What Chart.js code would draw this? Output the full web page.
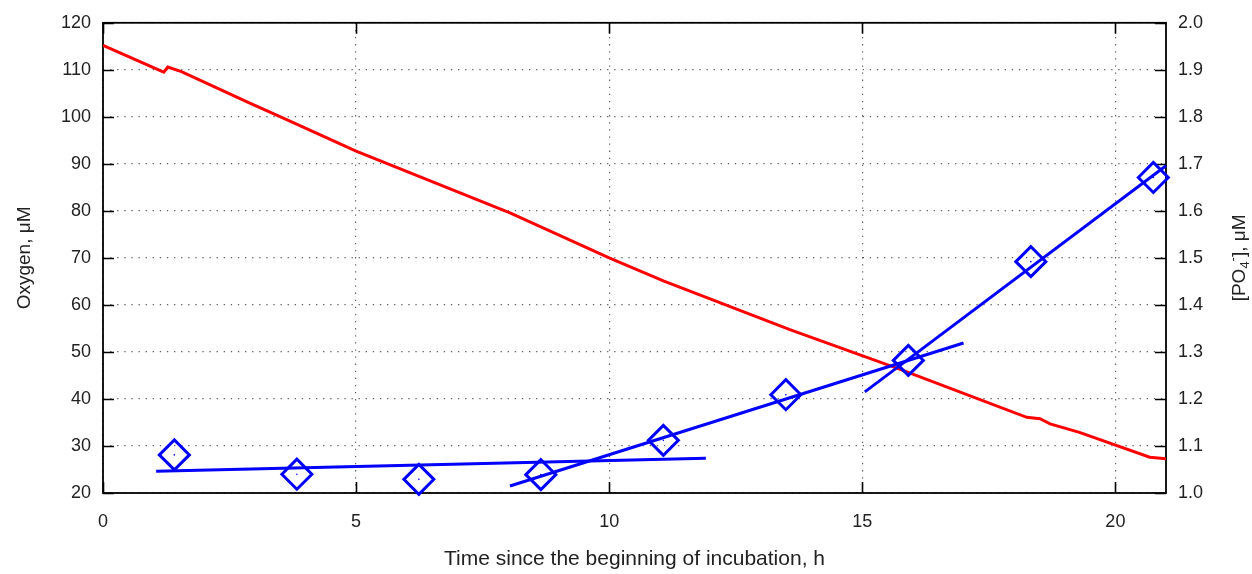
<!DOCTYPE html>
<html>
<head>
<meta charset="utf-8">
<script src="https://cdn.jsdelivr.net/npm/chart.js@4/dist/chart.umd.min.js"></script>
<style>
  html, body { margin: 0; padding: 0; background: #ffffff; }
  #wrap { width: 1252px; height: 574px; }
</style>
</head>
<body>
<div id="wrap"><canvas id="c" width="1252" height="574"></canvas></div>
<script>
// ---------- data ----------
const timeO2 = [0, 1.2, 1.28, 1.55, 2.9, 3.53, 5.0, 8.04, 10.0, 11.07, 12.98, 13.57, 15.75, 18.25, 18.51, 18.71, 19.29, 20.68, 21.0];
const oxygen = [115.2, 109.5, 110.6, 109.6, 102.9, 99.9, 92.7, 79.6, 70.0, 65.1, 57.2, 54.75, 46.3, 36.1, 35.8, 34.7, 32.9, 27.6, 27.3];

const timePO4 = [1.41, 3.83, 6.24, 8.65, 11.07, 13.49, 15.91, 18.33, 20.75];
const phosphate = [1.081, 1.040, 1.029, 1.039, 1.112, 1.209, 1.282, 1.492, 1.671];

const fit1Time = [1.05, 11.91];
const fit1Value = [1.046, 1.074];
const fit2Time = [8.04, 17.0];
const fit2Value = [1.015, 1.319];
const fit3Time = [15.05, 21.0];
const fit3Value = [1.215, 1.696];

const xTicks = [0, 5, 10, 15, 20];
const yTicks = [20, 30, 40, 50, 60, 70, 80, 90, 100, 110, 120];
const y2Ticks = [1.0, 1.1, 1.2, 1.3, 1.4, 1.5, 1.6, 1.7, 1.8, 1.9, 2.0];

const xTitle = 'Time since the beginning of incubation, h';
const yTitle = 'Oxygen, \u03BCM';
const y2TitleParts = ['[PO', '4', '-', '], \u03BCM'];

// ---------- helpers ----------
const pts = (xs, ys) => xs.map((x, i) => ({ x: x, y: ys[i] }));
const RED = '#ff0000';
const BLUE = '#0000ff';
const FONT = "'Liberation Sans', Arial, sans-serif";

const frameTicks = {
  id: 'frameTicks',
  beforeDatasetsDraw(chart) {
    const { ctx, chartArea: a, scales } = chart;
    const L = 11;
    ctx.save();
    ctx.strokeStyle = '#000';
    ctx.lineWidth = 1.6;
    ctx.beginPath();
    xTicks.forEach(v => {
      const px = Math.round(scales.x.getPixelForValue(v)) + 0.5;
      ctx.moveTo(px, a.bottom); ctx.lineTo(px, a.bottom - L);
      ctx.moveTo(px, a.top); ctx.lineTo(px, a.top + L);
    });
    yTicks.forEach(v => {
      const py = Math.round(scales.y.getPixelForValue(v)) + 0.5;
      ctx.moveTo(a.left, py); ctx.lineTo(a.left + L, py);
    });
    y2Ticks.forEach(v => {
      const py = Math.round(scales.y1.getPixelForValue(v)) + 0.5;
      ctx.moveTo(a.right, py); ctx.lineTo(a.right - L, py);
    });
    ctx.stroke();
    ctx.lineWidth = 1.8;
    ctx.strokeRect(a.left, a.top, a.right - a.left, a.bottom - a.top);
    ctx.restore();
  },
  afterDraw(chart) {
    // right-hand axis title with subscript / superscript, reading bottom-to-top
    const { ctx, chartArea: a } = chart;
    const size = 19;
    const small = 13;
    ctx.save();
    ctx.fillStyle = '#222';
    ctx.textBaseline = 'middle';
    ctx.textAlign = 'left';
    const parts = [
      { t: y2TitleParts[0], f: size, dy: 0 },
      { t: y2TitleParts[1], f: small, dy: 5 },
      { t: y2TitleParts[2], f: small, dy: -7 },
      { t: y2TitleParts[3], f: size, dy: 0 }
    ];
    let total = 0;
    parts.forEach(p => { ctx.font = p.f + 'px ' + FONT; p.w = ctx.measureText(p.t).width; total += p.w; });
    const cx = 1240, cy = (a.top + a.bottom) / 2;
    ctx.translate(cx, cy);
    ctx.rotate(-Math.PI / 2);
    let x = -total / 2;
    parts.forEach(p => {
      ctx.font = p.f + 'px ' + FONT;
      ctx.fillText(p.t, x, p.dy);
      x += p.w;
    });
    ctx.restore();
  }
};

const chart = new Chart(document.getElementById('c'), {
  type: 'scatter',
  data: {
    datasets: [
      {
        label: 'Oxygen',
        data: pts(timeO2, oxygen),
        yAxisID: 'y',
        showLine: true,
        borderColor: RED,
        borderWidth: 3,
        pointRadius: 0,
        tension: 0,
        order: 10
      },
      {
        label: 'Fit 1',
        data: pts(fit1Time, fit1Value),
        yAxisID: 'y1',
        showLine: true,
        borderColor: BLUE,
        borderWidth: 3,
        pointRadius: 0,
        order: 5
      },
      {
        label: 'Fit 2',
        data: pts(fit2Time, fit2Value),
        yAxisID: 'y1',
        showLine: true,
        borderColor: BLUE,
        borderWidth: 3,
        pointRadius: 0,
        order: 5
      },
      {
        label: 'Fit 3',
        data: pts(fit3Time, fit3Value),
        yAxisID: 'y1',
        showLine: true,
        borderColor: BLUE,
        borderWidth: 3,
        pointRadius: 0,
        clip: false,
        order: 5
      },
      {
        label: '[PO4-]',
        data: pts(timePO4, phosphate),
        yAxisID: 'y1',
        showLine: false,
        pointStyle: 'rectRot',
        pointRadius: 15,
        pointHoverRadius: 15,
        pointBorderWidth: 3,
        pointBorderColor: BLUE,
        pointBackgroundColor: 'rgba(0,0,0,0)',
        clip: false,
        order: 2
      },
      {
        label: '[PO4-] centre',
        data: pts(timePO4, phosphate),
        yAxisID: 'y1',
        showLine: false,
        pointStyle: 'circle',
        pointRadius: 0.8,
        pointBorderWidth: 0,
        pointBackgroundColor: BLUE,
        clip: false,
        order: 1
      }
    ]
  },
  options: {
    responsive: false,
    animation: false,
    events: [],
    layout: { padding: { top: 19, left: 0, right: 0, bottom: 0 } },
    plugins: {
      legend: { display: false },
      tooltip: { enabled: false }
    },
    scales: {
      x: {
        type: 'linear',
        min: 0,
        max: 21,
        afterBuildTicks: s => { s.ticks = xTicks.map(v => ({ value: v })); },
        afterFit: s => { s.height = 81; },
        grid: { color: 'rgba(80,80,80,0.9)', lineWidth: 1.2, drawTicks: false },
        border: { display: false, dash: [1.3, 5.8] },
        ticks: { padding: 18, color: '#222', font: { family: FONT, size: 18 }, maxRotation: 0 },
        title: { display: true, text: xTitle, color: '#222', font: { family: FONT, size: 21 }, padding: { top: 0, bottom: 2 } }
      },
      y: {
        type: 'linear',
        position: 'left',
        min: 20,
        max: 120,
        afterBuildTicks: s => { s.ticks = yTicks.map(v => ({ value: v })); },
        afterFit: s => { s.width = 103; },
        grid: { color: 'rgba(80,80,80,0.9)', lineWidth: 1.2, drawTicks: false },
        border: { display: false, dash: [1.3, 5.8] },
        ticks: { padding: 12, color: '#222', font: { family: FONT, size: 18 } },
        title: { display: true, text: yTitle, color: '#222', font: { family: FONT, size: 19 }, padding: { top: 13, bottom: 0 } }
      },
      y1: {
        type: 'linear',
        position: 'right',
        min: 1.0,
        max: 2.0,
        afterBuildTicks: s => { s.ticks = y2Ticks.map(v => ({ value: v })); },
        afterFit: s => { s.width = 86; },
        grid: { display: false, drawTicks: false },
        border: { display: false },
        ticks: { padding: 12, color: '#222', font: { family: FONT, size: 18 }, callback: v => v.toFixed(1) }
      }
    }
  },
  plugins: [frameTicks]
});
</script>
</body>
</html>
